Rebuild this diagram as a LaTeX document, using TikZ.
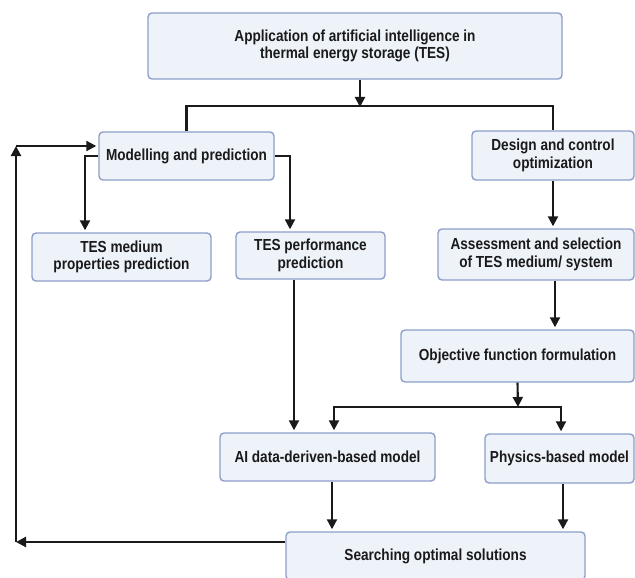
\documentclass[tikz,border=0pt]{standalone}
\usepackage{fontspec}
\setmainfont{Liberation Sans}[FakeStretch=0.85]
\usetikzlibrary{arrows.meta}
\definecolor{boxfill}{HTML}{EEF2F9}
\definecolor{boxline}{HTML}{8E9ECB}
\definecolor{inkc}{HTML}{1A1A1A}
\tikzset{
  box/.style={draw=boxline, fill=boxfill, line width=1.4pt, rounded corners=4pt,
    align=center, font=\fontsize{16}{17.5}\selectfont\bfseries, text=inkc, inner sep=0pt},
  conn/.style={draw=inkc, line width=2.1pt},
  arr/.style={conn, -{Triangle[length=10pt,width=10pt]}, shorten >=2pt}
}
\begin{document}
\begin{tikzpicture}[x=1pt,y=-1pt]
\useasboundingbox (0,0) rectangle (635,578);
\node[box, minimum width=414pt, minimum height=66pt] (top) at (355,46)
  {Application of artificial intelligence in\\thermal energy storage (TES)};
\node[box, minimum width=175pt, minimum height=48pt] (model) at (186.5,156) {Modelling and prediction};
\node[box, minimum width=162pt, minimum height=49pt] (design) at (553,155.5) {Design and control\\optimization};
\node[box, minimum width=179pt, minimum height=48pt] (medium) at (121.5,257) {TES medium\\properties prediction};
\node[box, minimum width=149pt, minimum height=47pt] (perf) at (310.5,255.5) {TES performance\\prediction};
\node[box, minimum width=196pt, minimum height=51pt] (assess) at (536,254.5) {Assessment and selection\\of TES medium/ system};
\node[box, minimum width=233pt, minimum height=52pt] (obj) at (517.5,356) {Objective function formulation};
\node[box, minimum width=215pt, minimum height=48pt] (ai) at (327.5,457) {AI data-deriven-based model};
\node[box, minimum width=149pt, minimum height=49pt] (phys) at (559.5,458.5) {Physics-based model};
\node[box, minimum width=299pt, minimum height=48pt] (search) at (435.5,556) {Searching optimal solutions};

\coordinate (j1) at (360,107);
\coordinate (j2) at (518,407);
\coordinate (fb1) at (16,542);
\coordinate (fb2) at (16,146);

% top split
\draw[arr, shorten >=0pt] (top.south -| j1) -- (j1);
\draw[conn] (model.north) -- ++(0,-25) -| (design.north);
% modelling branches
\draw[arr] (model.west) -| ([xshift=-36.5pt]medium.north);
\draw[arr] (model.east) -| ([xshift=-20.5pt]perf.north);
\draw[arr] ([xshift=-16.5pt]perf.south) -- ([xshift=-16.5pt]perf.south |- ai.north);
% right column
\draw[arr] (design.south) -- (design.south |- assess.north);
\draw[arr] ([xshift=19pt]assess.south) -- ([xshift=19pt]assess.south |- obj.north);
\draw[arr, shorten >=0pt] (obj.south) -- (j2);
\draw[arr] (j2) -| ([xshift=6.5pt]ai.north);
\draw[arr] (j2) -| ([xshift=1.5pt]phys.north);
% to search
\draw[arr] ([xshift=4.5pt]ai.south) -- ([xshift=4.5pt]ai.south |- search.north);
\draw[arr] ([xshift=3.5pt]phys.south) -- ([xshift=3.5pt]phys.south |- search.north);
% feedback
\draw[arr, shorten >=0pt] ([yshift=14pt]search.west) -- (fb1);
\draw[arr, shorten >=0pt] (fb1) -- (fb2);
\draw[arr] (fb2) -- ([yshift=10pt]model.west);
\end{tikzpicture}
\end{document}
